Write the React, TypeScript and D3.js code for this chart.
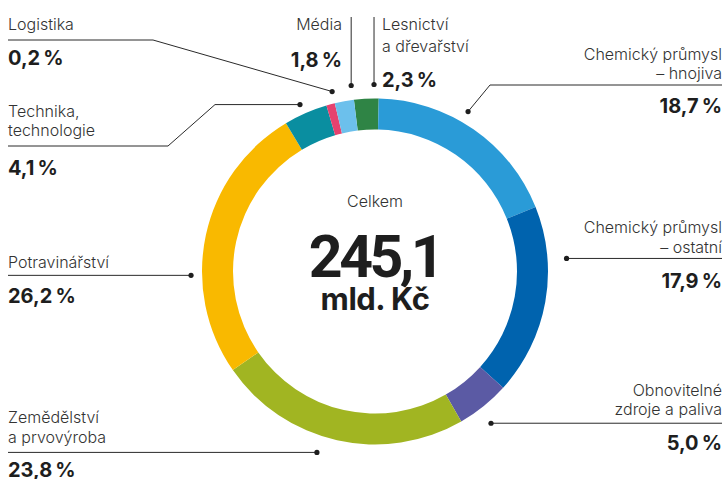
import React, { useEffect, useRef } from 'react';
import * as d3 from 'd3';

// sectors in drawing order, clockwise from the top
const names = [
  ['Lesnictví', 'a dřevařství'],
  ['Chemický průmysl', '– hnojiva'],
  ['Chemický průmysl', '– ostatní'],
  ['Obnovitelné', 'zdroje a paliva'],
  ['Zemědělství', 'a prvovýroba'],
  ['Potravinářství'],
  ['Technika,', 'technologie'],
  ['Logistika'],
  ['Média'],
];
const shares = [2.3, 18.7, 17.9, 5.0, 23.8, 26.2, 4.1, 0.2, 1.8];
const colors = ['#2f8445', '#2a9bd7', '#0063ae', '#5b5aa4', '#a1b522', '#f9b900', '#0a8ea0', '#e5426f', '#6cc0ec'];
const total = '245,1';
const unit = 'mld. Kč';

// label placement: dot polar position (deg from north, radius), text anchor + line shape
const layout = [
  { dotA: -0.3, dotR: 187, kind: 'vertL', tx: 382, ty: [30, 52], py: 87 },
  { dotA: 30.2, dotR: 185, kind: 'elbowR', tx: 722, ty: [60, 79], py: 113, lineY: 85, elbowX: 490 },
  { dotA: 86.1, dotR: 192, kind: 'horR', tx: 722, ty: [233, 253], py: 288 },
  { dotA: 142.6, dotR: 191, kind: 'horR', tx: 722, ty: [396, 415], py: 450 },
  { dotA: 197.8, dotR: 190, kind: 'horL', tx: 8, ty: [423, 443], py: 477 },
  { dotA: 268.8, dotR: 184, kind: 'horL', tx: 8, ty: [268], py: 303 },
  { dotA: -24.2, dotR: 183, kind: 'elbow2L', tx: 8, ty: [117, 136], py: 175, lineY: 146, elbowX: 168, elbowX2: 215 },
  { dotA: -13.4, dotR: 185, kind: 'elbowL', tx: 8, ty: [30], py: 65, lineY: 40, elbowX: 153 },
  { dotA: -7.3, dotR: 187.5, kind: 'vertR', tx: 342, ty: [30], py: 67 },
];

const W = 726;
const H = 479;
const cx = 375;
const cy = 271.5;
const rOuter = 173;
const rInner = 142;
const START = (-7 * Math.PI) / 180;
const FONT = 'Inter, "Noto Sans", sans-serif';
const NUMFONT = 'Roboto, sans-serif';

export default function App() {
  const ref = useRef<SVGSVGElement>(null);

  useEffect(() => {
    const svg = d3.select(ref.current);
    svg.selectAll('*').remove();

    const data = shares.map((v, i) => ({ i, value: v }));
    const pie = d3
      .pie<any>()
      .sort(null)
      .value((d) => Math.max(d.value, 0.8)) // keep the tiniest slice visible
      .startAngle(START)
      .endAngle(START + 2 * Math.PI);
    const arc = d3.arc<any>().innerRadius(rInner).outerRadius(rOuter);

    const g = svg.append('g').attr('transform', `translate(${cx},${cy})`);
    g.selectAll('path')
      .data(pie(data))
      .join('path')
      .attr('d', arc)
      .attr('fill', (d) => colors[d.data.i]);

    // centre
    svg
      .append('text')
      .attr('x', cx)
      .attr('y', 207)
      .attr('text-anchor', 'middle')
      .attr('font-family', FONT)
      .attr('font-weight', 300)
      .attr('font-size', 16)
      .attr('fill', '#333')
      .text('Celkem');
    svg
      .append('text')
      .attr('x', cx)
      .attr('y', 277)
      .attr('text-anchor', 'middle')
      .attr('font-family', NUMFONT)
      .attr('font-weight', 700)
      .attr('font-size', 59)
      .attr('letter-spacing', -3.5)
      .attr('fill', '#1e1e1e')
      .text(total);
    svg
      .append('text')
      .attr('x', cx)
      .attr('y', 310)
      .attr('text-anchor', 'middle')
      .attr('font-family', FONT)
      .attr('font-weight', 700)
      .attr('font-size', 31)
      .attr('letter-spacing', -0.5)
      .attr('fill', '#1e1e1e')
      .text(unit);

    const fmt = (v: number) => d3.format('.1f')(v).replace('.', ',') + '\u202f%';

    layout.forEach((L, i) => {
      const a = (L.dotA * Math.PI) / 180;
      const dx = cx + L.dotR * Math.sin(a);
      const dy = cy - L.dotR * Math.cos(a);
      const right = L.kind === 'horR' || L.kind === 'elbowR' || L.kind === 'vertR';
      const anchor = right ? 'end' : 'start';

      let pts: [number, number][] = [];
      if (L.kind === 'vertL' || L.kind === 'vertR') pts = [[dx, 17], [dx, dy]];
      else if (L.kind === 'horL') pts = [[L.tx, dy], [dx, dy]];
      else if (L.kind === 'horR') pts = [[dx, dy], [L.tx, dy]];
      else if (L.kind === 'elbowL') pts = [[L.tx, L.lineY!], [L.elbowX!, L.lineY!], [dx, dy]];
      else if (L.kind === 'elbowR') pts = [[L.tx, L.lineY!], [L.elbowX!, L.lineY!], [dx, dy]];
      else if (L.kind === 'elbow2L')
        pts = [[L.tx, L.lineY!], [L.elbowX!, L.lineY!], [L.elbowX2!, dy], [dx, dy]];

      svg
        .append('path')
        .attr('d', d3.line()(pts))
        .attr('fill', 'none')
        .attr('stroke', '#2a2a2a')
        .attr('stroke-width', 1);
      svg.append('circle').attr('cx', dx).attr('cy', dy).attr('r', 2.6).attr('fill', '#1e1e1e');

      names[i].forEach((line, k) => {
        svg
          .append('text')
          .attr('x', L.tx)
          .attr('y', L.ty[k])
          .attr('text-anchor', anchor)
          .attr('font-family', FONT)
          .attr('font-weight', 300)
          .attr('font-size', 16)
          .attr('fill', '#333')
          .text(line);
      });
      svg
        .append('text')
        .attr('x', L.tx)
        .attr('y', L.py)
        .attr('text-anchor', anchor)
        .attr('font-family', FONT)
        .attr('font-weight', 700)
        .attr('font-size', 20)
        .attr('fill', '#1e1e1e')
        .text(fmt(shares[i]));
    });
  }, []);

  return (
    <svg
      ref={ref}
      width={W}
      height={H}
      viewBox={`0 0 ${W} ${H}`}
      style={{ position: 'absolute', left: 0, top: 0, background: '#fff' }}
    />
  );
}
